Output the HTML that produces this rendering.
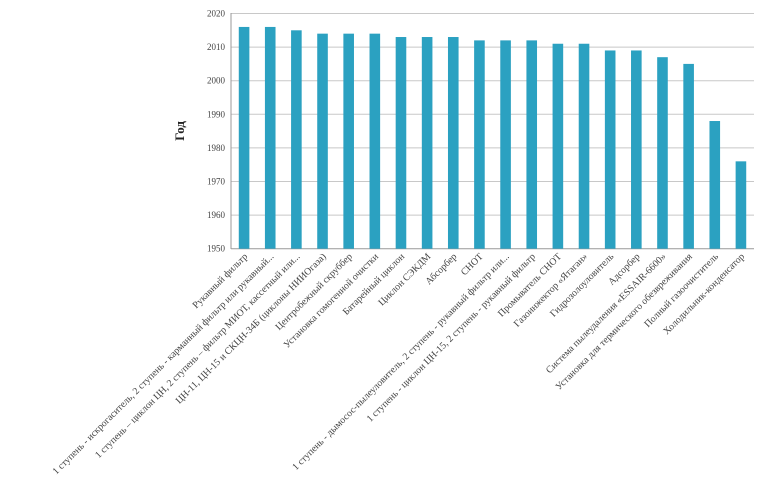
<!DOCTYPE html>
<html><head><meta charset="utf-8"><style>html,body{margin:0;padding:0;background:#fff;}svg{display:block}</style></head>
<body>
<svg width="774" height="486" xmlns="http://www.w3.org/2000/svg" font-family="Liberation Serif, serif">
<g stroke="#c8c8c8" stroke-width="1">
<line x1="231" x2="754" y1="13.5" y2="13.5"/>
<line x1="231" x2="754" y1="47.1" y2="47.1"/>
<line x1="231" x2="754" y1="80.7" y2="80.7"/>
<line x1="231" x2="754" y1="114.3" y2="114.3"/>
<line x1="231" x2="754" y1="147.9" y2="147.9"/>
<line x1="231" x2="754" y1="181.5" y2="181.5"/>
<line x1="231" x2="754" y1="215.1" y2="215.1"/>
</g>
<line x1="231" x2="754" y1="248.7" y2="248.7" stroke="#999"/>
<line x1="231" x2="231" y1="13" y2="249" stroke="#999"/>
<g font-size="9" fill="#444" text-anchor="end">
<text x="225" y="16.5">2020</text><text x="225" y="50">2010</text><text x="225" y="83.7">2000</text><text x="225" y="117.3">1990</text><text x="225" y="151">1980</text><text x="225" y="184.5">1970</text><text x="225" y="218">1960</text><text x="225" y="251.7">1950</text>
</g>
<text transform="translate(184,131) rotate(-90)" font-size="13" font-weight="bold" text-anchor="middle" fill="#222">Год</text>
<g fill="#2ba1c1" id="bars"></g>
<g id="labels" font-size="9.8" fill="#444" text-anchor="end"></g>
<script>
var v=[2016,2016,2015,2014,2014,2014,2013,2013,2013,2012,2012,2012,2011,2011,2009,2009,2007,2005,1988,1976];
var L=["Рукавный фильтр","1 ступень - искрогаситель, 2 ступень - карманный фильтр или рукавный...","1 ступень – циклон ЦН, 2 ступень – фильтр МИОТ, кассетный или...","ЦН-11, ЦН-15 и СКЦН-34Б (циклоны НИИОгаза)","Центробежный скруббер","Установка гомогенной очистки","Батарейный циклон","Циклон СЭКДМ","Абсорбер","СНОТ","1 ступень - дымосос-пылеуловитель, 2 ступень - рукавный фильтр или...","1 ступень - циклон ЦН-15, 2 ступень - рукавный фильтр","Промыватель СНОТ","Газоинжектор «Ятаган»","Гидрозолоуловитель","Адсорбер","Система пылеудаления «ESSAIR-6600»","Установка для термического обезвреживания","Полный газоочиститель","Холодильник-конденсатор"];
var ns="http://www.w3.org/2000/svg",b=document.getElementById("bars"),l=document.getElementById("labels");
for(var i=0;i<20;i++){var c=231+26.15*(i+0.5);var y=248.7-(v[i]-1950)*3.36;
var r=document.createElementNS(ns,"rect");r.setAttribute("x",c-5.3);r.setAttribute("y",y);r.setAttribute("width",10.6);r.setAttribute("height",248.7-y);b.appendChild(r);
var t=document.createElementNS(ns,"text");t.setAttribute("transform","translate("+(c+4)+",257) rotate(-45)");t.textContent=L[i];l.appendChild(t);}
</script>
</svg>
</body></html>
